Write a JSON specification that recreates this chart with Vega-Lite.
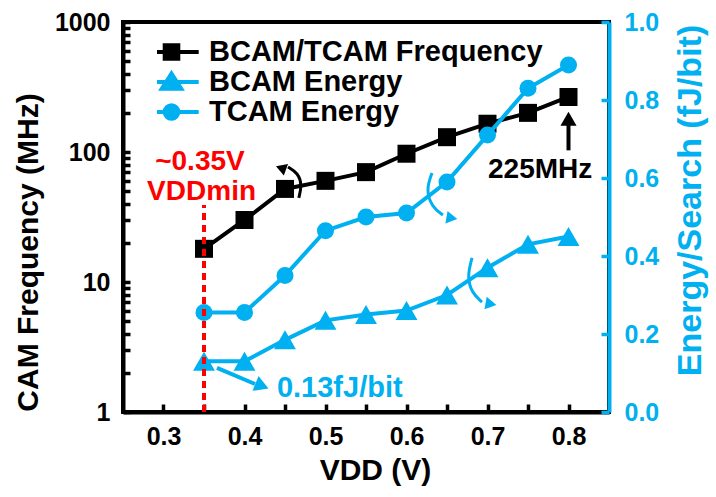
{
  "$schema": "https://vega.github.io/schema/vega-lite/v6.json",
  "width": 486,
  "height": 390,
  "autosize": {"type": "none"},
  "padding": {"left": 123, "top": 22, "right": 107, "bottom": 85},
  "config": {
    "font": "Liberation Sans",
    "view": {"stroke": "black", "strokeWidth": 4},
    "axis": {
      "grid": false,
      "ticks": true,
      "tickOpacity": 1,
      "labelFont": "Liberation Sans",
      "titleFont": "Liberation Sans",
      "labelFontWeight": "bold",
      "titleFontWeight": "bold",
      "domainWidth": 4,
      "tickWidth": 3.5,
      "labelFontSize": 25,
      "titleFontSize": 30,
      "labelFlush": false
    },
    "legend": {
      "labelFont": "Liberation Sans",
      "labelFontWeight": "bold",
      "labelFontSize": 29,
      "labelColor": "black",
      "labelLimit": 500
    }
  },
  "datasets": {
    "main": [
      {"vdd": 0.35, "series": "BCAM/TCAM Frequency", "value": 18},
      {"vdd": 0.40, "series": "BCAM/TCAM Frequency", "value": 30},
      {"vdd": 0.45, "series": "BCAM/TCAM Frequency", "value": 52},
      {"vdd": 0.50, "series": "BCAM/TCAM Frequency", "value": 60},
      {"vdd": 0.55, "series": "BCAM/TCAM Frequency", "value": 70},
      {"vdd": 0.60, "series": "BCAM/TCAM Frequency", "value": 97},
      {"vdd": 0.65, "series": "BCAM/TCAM Frequency", "value": 130},
      {"vdd": 0.70, "series": "BCAM/TCAM Frequency", "value": 165},
      {"vdd": 0.75, "series": "BCAM/TCAM Frequency", "value": 200},
      {"vdd": 0.80, "series": "BCAM/TCAM Frequency", "value": 265},
      {"vdd": 0.35, "series": "BCAM Energy", "value": 0.13},
      {"vdd": 0.40, "series": "BCAM Energy", "value": 0.13},
      {"vdd": 0.45, "series": "BCAM Energy", "value": 0.185},
      {"vdd": 0.50, "series": "BCAM Energy", "value": 0.235},
      {"vdd": 0.55, "series": "BCAM Energy", "value": 0.25},
      {"vdd": 0.60, "series": "BCAM Energy", "value": 0.26},
      {"vdd": 0.65, "series": "BCAM Energy", "value": 0.30},
      {"vdd": 0.70, "series": "BCAM Energy", "value": 0.37},
      {"vdd": 0.75, "series": "BCAM Energy", "value": 0.43},
      {"vdd": 0.80, "series": "BCAM Energy", "value": 0.45},
      {"vdd": 0.35, "series": "TCAM Energy", "value": 0.255},
      {"vdd": 0.40, "series": "TCAM Energy", "value": 0.255},
      {"vdd": 0.45, "series": "TCAM Energy", "value": 0.35},
      {"vdd": 0.50, "series": "TCAM Energy", "value": 0.465},
      {"vdd": 0.55, "series": "TCAM Energy", "value": 0.50},
      {"vdd": 0.60, "series": "TCAM Energy", "value": 0.51},
      {"vdd": 0.65, "series": "TCAM Energy", "value": 0.59},
      {"vdd": 0.70, "series": "TCAM Energy", "value": 0.71},
      {"vdd": 0.75, "series": "TCAM Energy", "value": 0.83},
      {"vdd": 0.80, "series": "TCAM Energy", "value": 0.89}
    ]
  },
  "layer": [
    {
      "layer": [
        {
          "data": {"name": "main"},
          "transform": [{"filter": "datum.series === 'BCAM/TCAM Frequency'"}],
          "mark": {"type": "line", "strokeWidth": 4, "color": "black"},
          "encoding": {
            "x": {
              "field": "vdd", "type": "quantitative",
              "scale": {"domain": [0.25, 0.85], "nice": false, "zero": false},
              "axis": {
                "title": "VDD (V)",
                "titleFontSize": 30,
                "titleX": 252, "titleY": 58, "titleBaseline": "middle",
                "values": [0.3, 0.35, 0.4, 0.45, 0.5, 0.55, 0.6, 0.65, 0.7, 0.75, 0.8],
                "labelExpr": "abs(datum.value*10-round(datum.value*10))<0.001 ? format(datum.value,'.1f') : ''",
                "labelOverlap": "greedy",
                "ticks": true,
                "tickSize": -8,
                "labelPadding": 20,
                "domainColor": "black", "tickColor": "black", "labelColor": "black", "titleColor": "black"
              }
            },
            "y": {
              "field": "value", "type": "quantitative",
              "scale": {"type": "log", "domain": [1, 1000], "nice": false},
              "axis": {
                "orient": "left",
                "title": "CAM Frequency (MHz)",
                "titleX": -95, "titleY": 230, "titleBaseline": "middle", "titleAngle": -90,
                "values": [1, 2, 3, 4, 5, 6, 7, 8, 9, 10, 20, 30, 40, 50, 60, 70, 80, 90, 100, 200, 300, 400, 500, 600, 700, 800, 900, 1000],
                "format": "d",
                "labelExpr": "(datum.value==1||datum.value==10||datum.value==100||datum.value==1000) ? datum.label : ''",
                "labelOverlap": "greedy",
                "ticks": true,
                "tickSize": -7,
                "labelPadding": 20,
                "domainColor": "black", "tickColor": "black", "labelColor": "black", "titleColor": "black"
              }
            }
          }
        },
        {
          "data": {"name": "main"},
          "transform": [{"filter": "datum.series === 'BCAM/TCAM Frequency'"}],
          "mark": {"type": "point", "shape": "square", "filled": true, "color": "black", "opacity": 1, "size": 324},
          "encoding": {
            "x": {"field": "vdd", "type": "quantitative"},
            "y": {"field": "value", "type": "quantitative"}
          }
        },
        {
          "data": {"values": [
            {"series": "BCAM/TCAM Frequency", "vdd": null, "value": null},
            {"series": "BCAM Energy", "vdd": null, "value": null},
            {"series": "TCAM Energy", "vdd": null, "value": null}
          ]},
          "mark": {"type": "point", "filled": true, "opacity": 1, "strokeWidth": 4},
          "encoding": {
            "x": {"field": "vdd", "type": "quantitative"},
            "y": {"field": "value", "type": "quantitative"},
            "color": {
              "field": "series", "type": "nominal",
              "scale": {"domain": ["BCAM/TCAM Frequency", "BCAM Energy", "TCAM Energy"], "range": ["black", "#00B0F0", "#00B0F0"]},
              "legend": {"title": null, "orient": "none", "legendX": 34, "legendY": 15, "symbolSize": 289, "symbolStrokeWidth": 4, "symbolOpacity": 1, "rowPadding": 0, "clipHeight": 30, "labelOffset": 23, "labelBaseline": "middle", "labelLimit": 500}
            },
            "stroke": {
              "field": "series", "type": "nominal",
              "scale": {"domain": ["BCAM/TCAM Frequency", "BCAM Energy", "TCAM Energy"], "range": ["black", "#00B0F0", "#00B0F0"]},
              "legend": {"title": null, "orient": "none", "legendX": 34, "legendY": 15, "symbolSize": 289, "symbolStrokeWidth": 4, "symbolOpacity": 1, "rowPadding": 0, "clipHeight": 30, "labelOffset": 23, "labelBaseline": "middle", "labelLimit": 500}
            },
            "shape": {
              "field": "series", "type": "nominal",
              "scale": {"domain": ["BCAM/TCAM Frequency", "BCAM Energy", "TCAM Energy"], "range": ["M-3.2,0H3.2M-0.8,-0.8H0.8V0.8H-0.8Z", "M-3.2,0H3.2M0,-1L1.15,0.8H-1.15Z", "M-3.2,0H3.2M-0.8,0A0.8,0.8 0 1,0 0.8,0A0.8,0.8 0 1,0 -0.8,0Z"]},
              "legend": {"title": null, "orient": "none", "legendX": 34, "legendY": 15, "symbolSize": 289, "symbolStrokeWidth": 4, "symbolOpacity": 1, "rowPadding": 0, "clipHeight": 30, "labelOffset": 23, "labelBaseline": "middle", "labelLimit": 500}
            }
          }
        },
        {
          "data": {"values": [{"vdd": 0.8, "value": 103, "value2": 165}]},
          "mark": {"type": "rule", "color": "black", "strokeWidth": 4},
          "encoding": {
            "x": {"field": "vdd", "type": "quantitative"},
            "y": {"field": "value", "type": "quantitative"},
            "y2": {"field": "value2"}
          }
        },
        {
          "data": {"values": [{"vdd": 0.8, "value": 180}]},
          "mark": {"type": "point", "shape": "triangle-up", "filled": true, "color": "black", "opacity": 1, "size": 260},
          "encoding": {
            "x": {"field": "vdd", "type": "quantitative"},
            "y": {"field": "value", "type": "quantitative"}
          }
        },
        {
          "data": {"values": [
            {"vdd": 0.765, "value": 73, "label": "225MHz"}
          ]},
          "mark": {"type": "text", "font": "Liberation Sans", "fontWeight": "bold", "fontSize": 28, "color": "black", "align": "center", "baseline": "middle"},
          "encoding": {
            "x": {"field": "vdd", "type": "quantitative"},
            "y": {"field": "value", "type": "quantitative"},
            "text": {"field": "label"}
          }
        },
        {
          "data": {"values": [
            {"vdd": 0.345, "value": 84, "label": "~0.35V"},
            {"vdd": 0.347, "value": 49, "label": "VDDmin"}
          ]},
          "mark": {"type": "text", "font": "Liberation Sans", "fontWeight": "bold", "fontSize": 28, "color": "#FF0000", "align": "center", "baseline": "middle"},
          "encoding": {
            "x": {"field": "vdd", "type": "quantitative"},
            "y": {"field": "value", "type": "quantitative"},
            "text": {"field": "label"}
          }
        },
        {
          "data": {"values": [
            {"i": 0, "vdd": 0.4537, "value": 76.7},
            {"i": 1, "vdd": 0.466, "value": 68.9},
            {"i": 2, "vdd": 0.471, "value": 55.7},
            {"i": 3, "vdd": 0.467, "value": 44.3}
          ]},
          "mark": {"type": "line", "color": "black", "strokeWidth": 3, "interpolate": "basis"},
          "encoding": {
            "x": {"field": "vdd", "type": "quantitative"},
            "y": {"field": "value", "type": "quantitative"},
            "order": {"field": "i"}
          }
        },
        {
          "data": {"values": [{"vdd": 0.445, "value": 75.3}]},
          "mark": {"type": "point", "shape": "triangle-left", "filled": true, "color": "black", "opacity": 1, "size": 150, "angle": 20},
          "encoding": {
            "x": {"field": "vdd", "type": "quantitative"},
            "y": {"field": "value", "type": "quantitative"}
          }
        }
      ]
    },
    {
      "layer": [
        {
          "data": {"name": "main"},
          "transform": [{"filter": "datum.series !== 'BCAM/TCAM Frequency'"}],
          "mark": {"type": "line", "strokeWidth": 4, "color": "#00B0F0"},
          "encoding": {
            "x": {"field": "vdd", "type": "quantitative"},
            "y": {
              "field": "value", "type": "quantitative",
              "scale": {"domain": [0, 1], "nice": false, "zero": true},
              "axis": {
                "orient": "right",
                "title": "Energy/Search (fJ/bit)",
                "titleFontSize": 34,
                "titleX": 81, "titleY": 178, "titleBaseline": "middle", "titleAngle": -90,
                "values": [0, 0.1, 0.2, 0.3, 0.4, 0.5, 0.6, 0.7, 0.8, 0.9, 1.0],
                "format": ".1f",
                "labelOverlap": false,
                "ticks": true,
                "tickSize": -8,
                "labelPadding": 23,
                "domainColor": "#00B0F0", "tickColor": "#00B0F0", "labelColor": "#00B0F0", "titleColor": "#00B0F0"
              }
            },
            "detail": {"field": "series", "type": "nominal"}
          }
        },
        {
          "data": {"name": "main"},
          "transform": [{"filter": "datum.series === 'BCAM Energy'"}],
          "mark": {"type": "point", "shape": "triangle-up", "filled": true, "color": "#00B0F0", "opacity": 1, "size": 480},
          "encoding": {
            "x": {"field": "vdd", "type": "quantitative"},
            "y": {"field": "value", "type": "quantitative"}
          }
        },
        {
          "data": {"name": "main"},
          "transform": [{"filter": "datum.series === 'TCAM Energy'"}],
          "mark": {"type": "point", "shape": "circle", "filled": true, "color": "#00B0F0", "opacity": 1, "size": 290},
          "encoding": {
            "x": {"field": "vdd", "type": "quantitative"},
            "y": {"field": "value", "type": "quantitative"}
          }
        },
        {
          "data": {"values": [{"vdd": 0.366, "value": 0.113, "vdd2": 0.413, "value2": 0.0718}]},
          "mark": {"type": "rule", "color": "#00B0F0", "strokeWidth": 4},
          "encoding": {
            "x": {"field": "vdd", "type": "quantitative"},
            "y": {"field": "value", "type": "quantitative"},
            "x2": {"field": "vdd2"},
            "y2": {"field": "value2"}
          }
        },
        {
          "data": {"values": [{"vdd": 0.4216, "value": 0.0667}]},
          "mark": {"type": "point", "shape": "triangle-right", "filled": true, "color": "#00B0F0", "opacity": 1, "size": 260, "angle": 22},
          "encoding": {
            "x": {"field": "vdd", "type": "quantitative"},
            "y": {"field": "value", "type": "quantitative"}
          }
        },
        {
          "data": {"values": [
            {"vdd": 0.656, "value": 0.497},
            {"vdd": 0.7043, "value": 0.277}
          ]},
          "mark": {"type": "point", "shape": "triangle-right", "filled": true, "color": "#00B0F0", "opacity": 1, "size": 160, "angle": 10},
          "encoding": {
            "x": {"field": "vdd", "type": "quantitative"},
            "y": {"field": "value", "type": "quantitative"}
          }
        },
        {
          "data": {"values": [
            {"id": "b", "i": 0, "vdd": 0.6315, "value": 0.6128},
            {"id": "b", "i": 1, "vdd": 0.624, "value": 0.569},
            {"id": "b", "i": 2, "vdd": 0.6315, "value": 0.5256},
            {"id": "b", "i": 3, "vdd": 0.645, "value": 0.505},
            {"id": "c", "i": 0, "vdd": 0.6809, "value": 0.395},
            {"id": "c", "i": 1, "vdd": 0.6747, "value": 0.346},
            {"id": "c", "i": 2, "vdd": 0.6809, "value": 0.305},
            {"id": "c", "i": 3, "vdd": 0.6932, "value": 0.282}
          ]},
          "mark": {"type": "line", "color": "#00B0F0", "strokeWidth": 3, "interpolate": "basis"},
          "encoding": {
            "x": {"field": "vdd", "type": "quantitative"},
            "y": {"field": "value", "type": "quantitative"},
            "detail": {"field": "id", "type": "nominal"},
            "order": {"field": "i"}
          }
        },
        {
          "data": {"values": [{"vdd": 0.44, "value": 0.0615, "label": "0.13fJ/bit"}]},
          "mark": {"type": "text", "font": "Liberation Sans", "fontWeight": "bold", "fontSize": 29, "color": "#00B0F0", "align": "left", "baseline": "middle"},
          "encoding": {
            "x": {"field": "vdd", "type": "quantitative"},
            "y": {"field": "value", "type": "quantitative"},
            "text": {"field": "label"}
          }
        },
        {
          "data": {"values": [{"vdd": 0.35, "value": 0, "value2": 0.531}]},
          "mark": {"type": "rule", "color": "#FF0000", "strokeWidth": 4, "strokeDash": [7, 5]},
          "encoding": {
            "x": {"field": "vdd", "type": "quantitative"},
            "y": {"field": "value", "type": "quantitative"},
            "y2": {"field": "value2"}
          }
        }
      ]
    }
  ],
  "resolve": {"scale": {"y": "independent"}}
}
